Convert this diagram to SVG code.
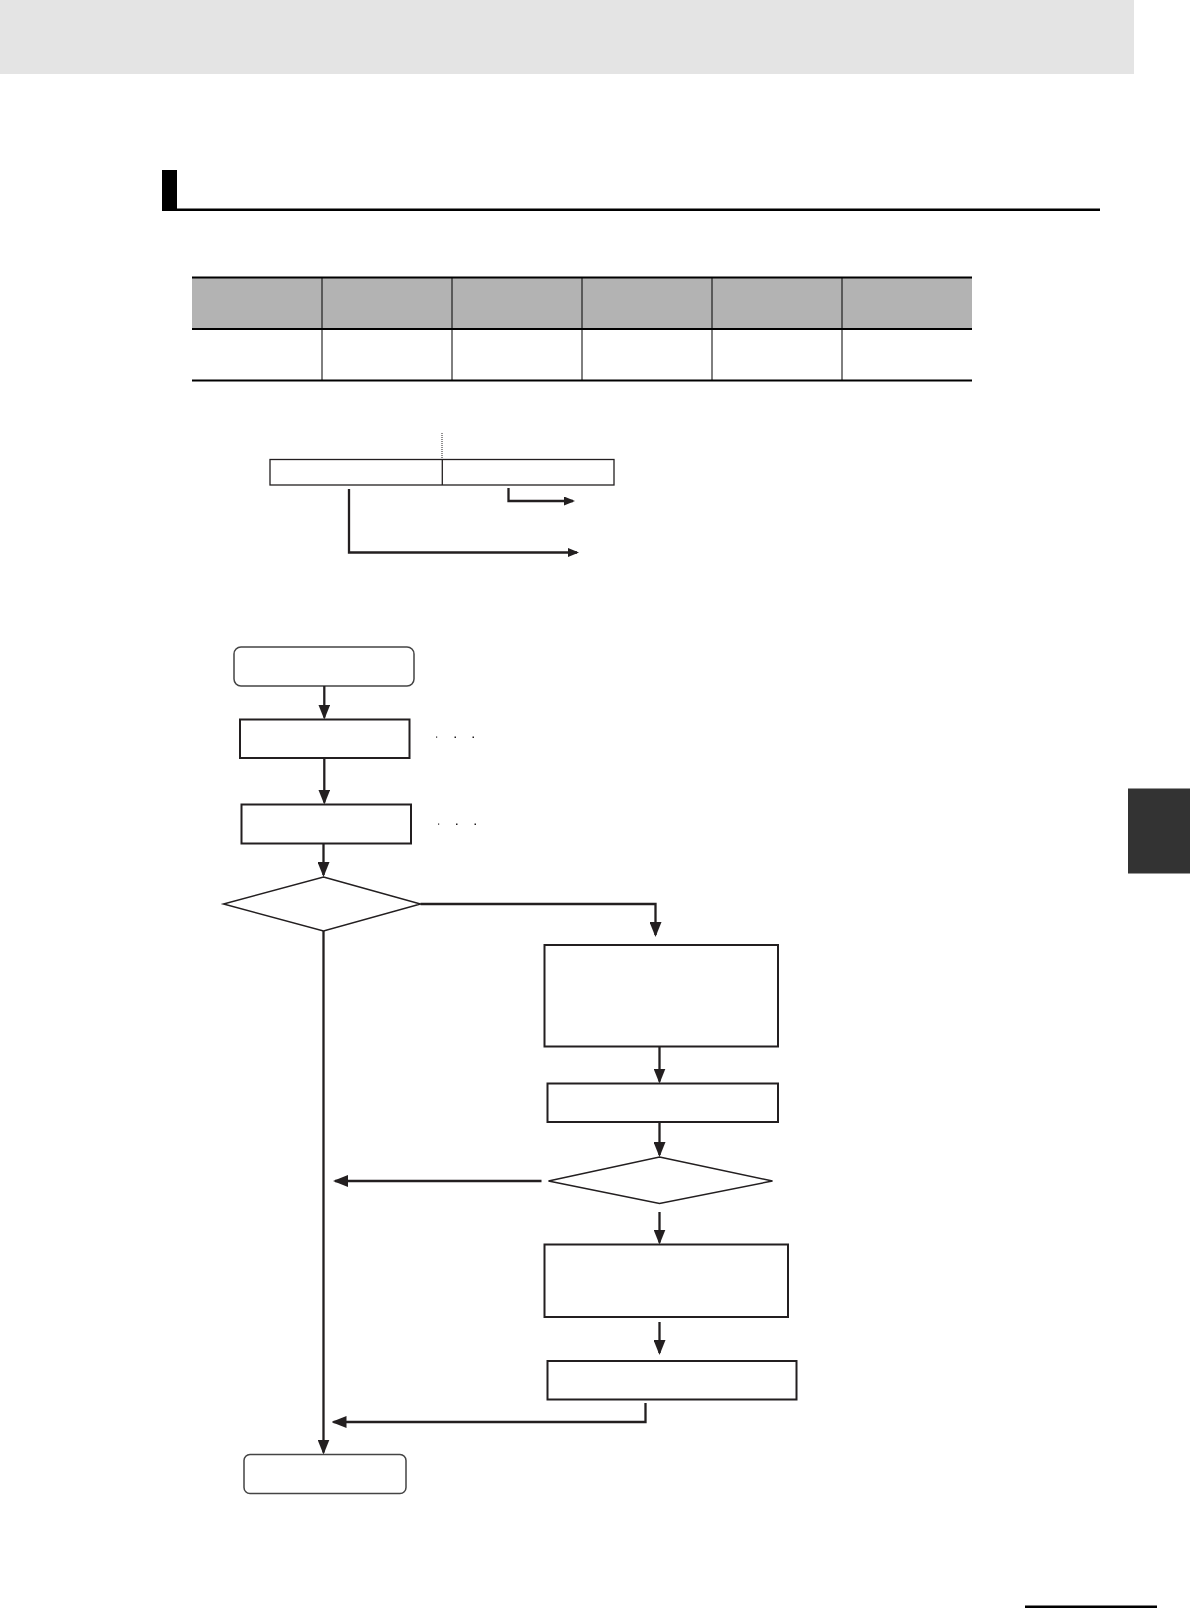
<svg xmlns="http://www.w3.org/2000/svg" width="1190" height="1608" viewBox="0 0 1190 1608">
<style>
.ln{fill:none;stroke:#231f20;stroke-width:2.3}
.thin{fill:none;stroke:#231f20;stroke-width:1.3}
.box{fill:#fff;stroke:#231f20;stroke-width:2}
.dia{fill:#fff;stroke:#231f20;stroke-width:1.5}
.term{fill:#fff;stroke:#444;stroke-width:1.5}
.dot{fill:#231f20}
</style>
<defs>
<marker id="ah" viewBox="0 0 15 12" refX="13" refY="6" markerWidth="15" markerHeight="12" markerUnits="userSpaceOnUse" orient="auto">
<path d="M0,0 L15,6 L0,12 z" fill="#231f20"/>
</marker>
<marker id="ahs" viewBox="0 0 11 9" refX="9" refY="4.5" markerWidth="11" markerHeight="9" markerUnits="userSpaceOnUse" orient="auto">
<path d="M0,0 L11,4.5 L0,9 z" fill="#231f20"/>
</marker>
</defs>

<!-- page decoration -->
<rect x="0" y="0" width="1134" height="74" fill="#e4e4e4"/>
<rect x="1128" y="788.5" width="62" height="85" fill="#333"/>
<rect x="1025" y="1605.5" width="132" height="2.5" fill="#000"/>

<!-- heading -->
<g id="heading">
<rect x="162" y="170" width="15" height="40" fill="#000"/>
<rect x="162" y="208.5" width="938" height="2.5" fill="#000"/>
</g>

<!-- table -->
<g id="table">
<rect x="192" y="277" width="780" height="51.5" fill="#b3b3b3"/>
<line x1="192" y1="277.5" x2="972" y2="277.5" stroke="#000" stroke-width="2"/>
<line x1="192" y1="329" x2="972" y2="329" stroke="#000" stroke-width="2"/>
<line x1="192" y1="380.5" x2="972" y2="380.5" stroke="#000" stroke-width="2"/>
<g stroke="#000" stroke-width="1">
<line x1="322" y1="277" x2="322" y2="380"/>
<line x1="452" y1="277" x2="452" y2="380"/>
<line x1="582" y1="277" x2="582" y2="380"/>
<line x1="712" y1="277" x2="712" y2="380"/>
<line x1="842" y1="277" x2="842" y2="380"/>
</g>
</g>

<!-- word layout -->
<g id="word">
<line x1="442" y1="433" x2="442" y2="459" stroke="#231f20" stroke-width="1" stroke-dasharray="1,1"/>
<rect x="270" y="459.5" width="344" height="25.5" class="thin"/>
<line x1="442.3" y1="459.5" x2="442.3" y2="485" stroke="#231f20" stroke-width="1.3"/>
</g>

<!-- flow nodes -->
<g id="start"><rect x="234" y="647" width="180" height="39" rx="7" class="term"/></g>
<g id="step1"><rect x="240" y="719.5" width="169.5" height="38.5" class="box"/>
<rect class="dot" x="436" y="736.5" width="1.2" height="1.2"/><rect class="dot" x="454.5" y="736.5" width="1.5" height="1.5"/><rect class="dot" x="472.5" y="736.5" width="1.5" height="1.5"/></g>
<g id="step2"><rect x="241.5" y="804.5" width="169.5" height="39" class="box" stroke-width="2.3"/>
<rect class="dot" x="438" y="823.5" width="1.2" height="1.2"/><rect class="dot" x="456" y="823.5" width="1.5" height="1.5"/><rect class="dot" x="474.5" y="823.5" width="1.5" height="1.5"/></g>
<g id="decision1"><polygon points="323.5,877 420.5,904 323.5,931 223.5,904" class="dia"/></g>
<g id="step3"><rect x="544.5" y="945" width="233.5" height="101.5" class="box"/></g>
<g id="step4"><rect x="547.5" y="1083.5" width="230.5" height="38.5" class="box"/></g>
<g id="decision2"><polygon points="659.5,1157 772.5,1181 659.5,1203.5 548.5,1181" class="dia"/></g>
<g id="step5"><rect x="544.5" y="1244.5" width="243.5" height="72.5" class="box"/></g>
<g id="step6"><rect x="547.5" y="1361" width="249" height="38.5" class="box"/></g>
<g id="end"><rect x="244" y="1454.5" width="162" height="39" rx="6" class="term"/></g>

<!-- connectors -->
<g id="connectors">
<polyline points="508.5,488 508.5,501 573,501" class="ln" stroke-width="2" marker-end="url(#ahs)"/>
<polyline points="349,489 349,552.5 577,552.5" class="ln" stroke-width="2" marker-end="url(#ahs)"/>
<line x1="324.3" y1="686" x2="324.3" y2="717.5" class="ln" marker-end="url(#ah)"/>
<line x1="324.3" y1="758" x2="324.3" y2="802.5" class="ln" marker-end="url(#ah)"/>
<line x1="323.5" y1="843.5" x2="323.5" y2="875" class="ln" marker-end="url(#ah)"/>
<polyline points="420.5,904 655.5,904 655.5,935" class="ln" marker-end="url(#ah)"/>
<line x1="323.5" y1="931" x2="323.5" y2="1452.5" class="ln" marker-end="url(#ah)"/>
<line x1="659.5" y1="1046.5" x2="659.5" y2="1081.5" class="ln" marker-end="url(#ah)"/>
<line x1="659.5" y1="1122" x2="659.5" y2="1155" class="ln" marker-end="url(#ah)"/>
<line x1="541.5" y1="1181" x2="335" y2="1181" class="ln" marker-end="url(#ah)"/>
<line x1="659.5" y1="1212" x2="659.5" y2="1242.5" class="ln" marker-end="url(#ah)"/>
<line x1="659.5" y1="1322" x2="659.5" y2="1353" class="ln" marker-end="url(#ah)"/>
<polyline points="645.5,1403 645.5,1422 333.5,1422" class="ln" marker-end="url(#ah)"/>
</g>
</svg>
